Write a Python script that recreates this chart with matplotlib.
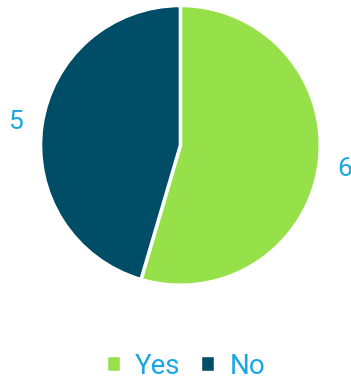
import matplotlib.pyplot as plt

labels = ["Yes", "No"]
counts = [6, 5]
colors = ["#96e04a", "#004d68"]
text_color = "#1aa6e4"

plt.rcParams["font.family"] = ["Roboto", "DejaVu Sans"]

fig = plt.figure(figsize=(3.51, 3.8), dpi=100)
ax = fig.add_axes([0.0, 0.235, 1.0, 0.765])

wedges, texts = ax.pie(counts, colors=colors, startangle=90, counterclock=False,
                       labels=[str(c) for c in counts], labeldistance=1.19,
                       radius=1.0,
                       wedgeprops=dict(edgecolor="white", linewidth=2.5),
                       textprops=dict(color=text_color, fontsize=19))
for t in texts:
    t.set_horizontalalignment("center")
    t.set_verticalalignment("center")
ax.set_aspect("equal")
ax.set_xlim(-1.29, 1.22)
ax.set_ylim(-1.03, 1.03)

fig.legend(wedges, labels, loc="center", bbox_to_anchor=(0.5 + 10 / 351, 14 / 380),
           ncol=2, frameon=False, fontsize=20, labelcolor=text_color,
           handlelength=0.55, handleheight=0.55, handletextpad=0.5,
           columnspacing=0.7)

fig.savefig("out.png", dpi=100)
